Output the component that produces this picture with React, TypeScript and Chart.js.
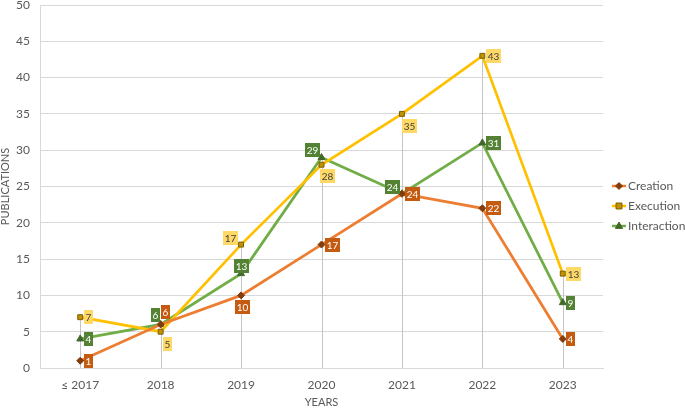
import React, { useEffect, useRef } from 'react';
import { Chart, registerables } from 'chart.js';

Chart.register(...registerables);

const years = ['≤ 2017', '2018', '2019', '2020', '2021', '2022', '2023'];
const seriesNames = ['Creation', 'Execution', 'Interaction'];
const creation = [1, 6, 10, 17, 24, 22, 4];
const execution = [7, 5, 17, 28, 35, 43, 13];
const interaction = [4, 6, 13, 29, 24, 31, 9];
const yMin = 0;
const yMax = 50;
const yStep = 5;

// label placement: 'r' = right of point; otherwise [dx, dy] offset of label centre
const creationLabelPos: any[] = ['r', [4.5, -12], [1, 12], 'r', 'r', 'r', 'r'];
const executionLabelPos: any[] = ['r', [7, 12], [-11, -7], [6, 11], [7, 12], 'r', 'r'];
const interactionLabelPos: any[] = ['r', [-5.5, -9], [0, -8], [-9.5, -7.5], [-10, -7], 'r', 'r'];

const FONT = "Lato, 'Open Sans', sans-serif";
const TEXT = '#595959';

const lineColors = ['#ED7D31', '#FFC000', '#70AD47'];
const markerFill = ['#843C0C', '#BF9000', '#43682B'];
const markerBorder = ['#843C0C', '#7F6000', '#43682B'];
const markerStyle = ['rectRot', 'rect', 'triangle'];
const markerRadius = [3.5, 3.5, 4];
const labelBg = ['#C55A11', '#FFD966', '#548235'];
const labelFg = ['#FFFFFF', '#404040', '#FFFFFF'];
const labelPos = [creationLabelPos, executionLabelPos, interactionLabelPos];

function drawMarker(ctx: CanvasRenderingContext2D, style: string, x: number, y: number, r: number, fill: string, stroke: string) {
  ctx.beginPath();
  if (style === 'rectRot') {
    ctx.moveTo(x, y - r);
    ctx.lineTo(x + r, y);
    ctx.lineTo(x, y + r);
    ctx.lineTo(x - r, y);
  } else if (style === 'rect') {
    ctx.rect(x - r * 0.85, y - r * 0.85, r * 1.7, r * 1.7);
  } else {
    ctx.moveTo(x, y - r);
    ctx.lineTo(x + r * 0.9, y + r * 0.6);
    ctx.lineTo(x - r * 0.9, y + r * 0.6);
  }
  ctx.closePath();
  ctx.fillStyle = fill;
  ctx.fill();
  ctx.strokeStyle = stroke;
  ctx.lineWidth = 1;
  ctx.stroke();
}

const overlay = {
  id: 'overlay',
  beforeDatasetsDraw(chart: any) {
    const ctx = chart.ctx as CanvasRenderingContext2D;
    const bottom = chart.scales.y.getPixelForValue(0);
    ctx.save();
    ctx.strokeStyle = '#C4C4C4';
    ctx.lineWidth = 1;
    for (let i = 0; i < years.length; i++) {
      let top = Infinity;
      let x = 0;
      chart.data.datasets.forEach((_: any, d: number) => {
        const p = chart.getDatasetMeta(d).data[i];
        if (p.y < top) top = p.y;
        x = p.x;
      });
      const px = Math.round(x) + 0.5;
      ctx.beginPath();
      ctx.moveTo(px, top);
      ctx.lineTo(px, bottom);
      ctx.stroke();
    }
    ctx.restore();
  },
  afterDatasetsDraw(chart: any) {
    const ctx = chart.ctx as CanvasRenderingContext2D;
    ctx.save();
    ctx.font = `10px ${FONT}`;
    ctx.textAlign = 'center';
    ctx.textBaseline = 'middle';
    chart.data.datasets.forEach((ds: any, d: number) => {
      const meta = chart.getDatasetMeta(d);
      ds.data.forEach((v: number, i: number) => {
        const p = meta.data[i];
        const txt = String(v);
        const w = ctx.measureText(txt).width + 3;
        const h = 14;
        const pos = labelPos[d][i];
        let cx: number, cy: number;
        if (pos === 'r') {
          cx = p.x + 3.5 + w / 2;
          cy = p.y;
        } else {
          cx = p.x + pos[0];
          cy = p.y + pos[1];
        }
        ctx.fillStyle = labelBg[d];
        ctx.fillRect(Math.round(cx - w / 2), Math.round(cy - h / 2), Math.round(w), h);
        ctx.fillStyle = labelFg[d];
        ctx.fillText(txt, Math.round(cx - w / 2) + Math.round(w) / 2, Math.round(cy - h / 2) + h / 2 + 0.5);
      });
    });
    ctx.restore();
  },
  afterDraw(chart: any) {
    const ctx = chart.ctx as CanvasRenderingContext2D;
    ctx.save();
    const ys = [186, 206, 226];
    seriesNames.forEach((name, d) => {
      const y = ys[d];
      ctx.strokeStyle = lineColors[d];
      ctx.lineWidth = 2.5;
      ctx.beginPath();
      ctx.moveTo(612, y);
      ctx.lineTo(626, y);
      ctx.stroke();
      drawMarker(ctx, markerStyle[d], 619, y, markerRadius[d], markerFill[d], markerBorder[d]);
      ctx.fillStyle = TEXT;
      ctx.font = `12px ${FONT}`;
      ctx.textAlign = 'left';
      ctx.textBaseline = 'middle';
      ctx.fillText(name, 628, y);
    });
    ctx.restore();
  },
};

export default function App() {
  const ref = useRef<HTMLCanvasElement | null>(null);
  useEffect(() => {
    if (!ref.current) return;
    const values = [creation, execution, interaction];
    const chart = new Chart(ref.current, {
      type: 'line',
      data: {
        labels: years,
        datasets: seriesNames.map((name, d) => ({
          label: name,
          data: values[d],
          borderColor: lineColors[d],
          backgroundColor: markerFill[d],
          borderWidth: 2.75,
          tension: 0,
          pointStyle: markerStyle[d] as any,
          pointRadius: markerRadius[d],
          pointBackgroundColor: markerFill[d],
          pointBorderColor: markerBorder[d],
          pointBorderWidth: 1,
          fill: false,
        })),
      },
      options: {
        responsive: false,
        animation: false,
        layout: { padding: { left: 0, right: 82, top: 0, bottom: 0 } },
        plugins: { legend: { display: false }, tooltip: { enabled: false } },
        scales: {
          x: {
            offset: true,
            grid: { display: false, drawTicks: false },
            border: { display: true, color: '#D9D9D9' },
            ticks: { color: TEXT, font: { family: FONT, size: 12 }, padding: 10, maxRotation: 0, autoSkip: false },
            title: { display: true, text: 'YEARS', color: TEXT, font: { family: FONT, size: 11, lineHeight: 1 }, padding: 0 },
            afterFit: (s: any) => { s.height = 40; },
          },
          y: {
            min: yMin,
            max: yMax,
            ticks: { stepSize: yStep, color: TEXT, font: { family: FONT, size: 12, lineHeight: 0.8 }, padding: 0 },
            grid: { color: '#D9D9D9', drawTicks: true, tickLength: 10, tickColor: 'rgba(0,0,0,0)' },
            border: { display: true, color: '#D9D9D9' },
            title: { display: true, text: 'PUBLICATIONS', color: TEXT, font: { family: FONT, size: 11, lineHeight: 1 }, padding: 0 },
            afterFit: (s: any) => { s.width = 40; },
          },
        },
      },
      plugins: [overlay],
    });
    return () => chart.destroy();
  }, []);
  return (
    <div style={{ position: 'fixed', left: 0, top: 0, width: 685, height: 408, background: '#fff' }}>
      <canvas ref={ref} width={685} height={408} style={{ display: 'block' }} />
    </div>
  );
}
